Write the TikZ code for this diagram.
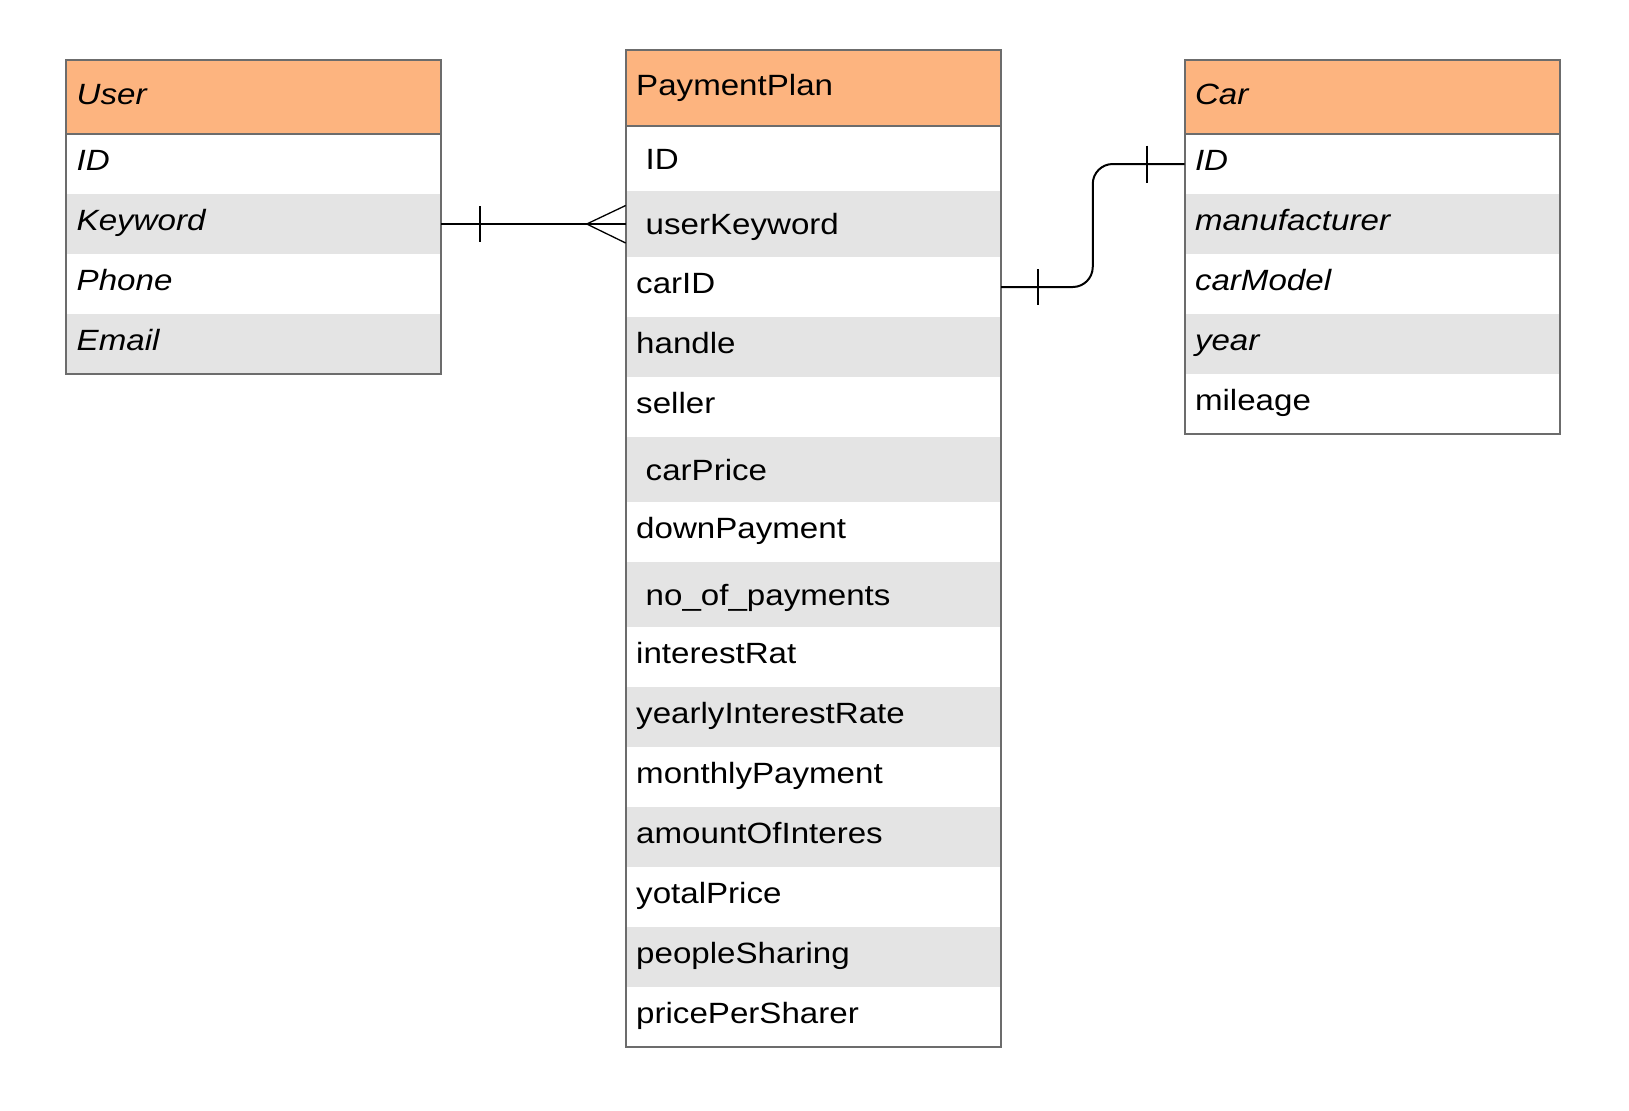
\documentclass[tikz,border=0pt]{standalone}
\usepackage{fontspec}
\setmainfont{Liberation Sans}[FakeStretch=1.13]
\usetikzlibrary{calc}
\definecolor{hdr}{RGB}{253,180,127}
\definecolor{gry}{RGB}{228,228,228}
\definecolor{bord}{RGB}{108,108,108}
\tikzset{
  cell/.style={draw=none, inner sep=0pt, outer sep=0pt, anchor=north west, minimum width=187.65pt},
  lbl/.style={inner sep=0pt, outer sep=0pt, anchor=base west, font=\fontsize{14.65}{17}\selectfont, text=black},
  ilbl/.style={lbl, font=\fontsize{14.65}{17}\selectfont\itshape},
  frame/.style={draw=bord, line width=1pt},
  rel/.style={draw=black, line width=1pt},
  relthin/.style={draw=black, line width=0.65pt},
}
\begin{document}
\begin{tikzpicture}[x=0.5pt, y=-0.5pt]
\useasboundingbox (0,0) rectangle (1629,1110);
\fill[white] (0,0) rectangle (1629,1110);

% ---------- User ----------
\node[cell, fill=hdr, minimum height=37.25pt] (uh) at (65.7,59.5) {};
\node[ilbl] (uh-t) at ($(uh.north west)+(11,45)$) {User};
\foreach \nm/\top/\fl/\tx in {uid/134/white/ID, ukw/194/gry/Keyword, uph/254/white/Phone, uem/314/gry/Email}{
  \node[cell, fill=\fl, minimum height=30pt] (\nm) at (65.7,\top) {};
  \node[ilbl] (\nm-t) at ($(\nm.north west)+(11,36.6)$) {\tx};
}
\draw[frame] (uh.north west) rectangle (uem.south east);
\draw[frame] (uh.south west) -- (uh.south east);

% ---------- Car ----------
\node[cell, fill=hdr, minimum height=37.25pt] (ch) at (1184.5,59.5) {};
\node[ilbl] (ch-t) at ($(ch.north west)+(10.5,45)$) {Car};
\foreach \nm/\top/\fl/\tx/\st in {cid/134/white/ID/ilbl, cmf/194/gry/manufacturer/ilbl, cmd/254/white/carModel/ilbl, cyr/314/gry/year/ilbl, cml/374/white/mileage/lbl}{
  \node[cell, fill=\fl, minimum height=30pt] (\nm) at (1184.5,\top) {};
  \node[\st] (\nm-t) at ($(\nm.north west)+(10.5,36.6)$) {\tx};
}
\draw[frame] (ch.north west) rectangle (cml.south east);
\draw[frame] (ch.south west) -- (ch.south east);

% ---------- PaymentPlan ----------
\node[cell, fill=hdr, minimum height=38pt] (ph) at (625.7,50) {};
\node[lbl] (ph-t) at ($(ph.north west)+(10.5,45.7)$) {PaymentPlan};
\foreach \nm/\top/\h/\fl/\tx/\dx/\bl in {
  pid/126/65/white/ID/20/43,
  puk/191/66/gry/userKeyword/20/43,
  pcar/257/60/white/carID/10.5/36.6,
  phd/317/60/gry/handle/10.5/36.6,
  psl/377/60/white/seller/10.5/36.6,
  pcp/437/65/gry/carPrice/20/43,
  pdp/502/60/white/downPayment/10.5/36.6,
  pnp/562/65/gry/no\_of\_payments/20/43,
  pir/627/60/white/interestRat/10.5/36.6,
  pyr/687/60/gry/yearlyInterestRate/10.5/36.6,
  pmp/747/60/white/monthlyPayment/10.5/36.6,
  pai/807/60/gry/amountOfInteres/10.5/36.6,
  pyt/867/60/white/yotalPrice/10.5/36.6,
  pps/927/60/gry/peopleSharing/10.5/36.6,
  ppp/987/60/white/pricePerSharer/10.5/36.6}{
  \node[cell, fill=\fl, minimum height=\h*0.5pt] (\nm) at (625.7,\top) {};
  \node[lbl] (\nm-t) at ($(\nm.north west)+(\dx,\bl)$) {\tx};
}
\draw[frame] (ph.north west) rectangle (ppp.south east);
\draw[frame] (ph.south west) -- (ph.south east);

% ---------- User -- PaymentPlan (one to many) ----------
\coordinate (ukw-e) at (ukw.east);
\coordinate (puk-w) at (ukw.east -| puk.west);
\coordinate (crow) at ($(puk-w)+(-39,0)$);
\draw[relthin] (ukw-e) -- (puk-w);
\draw[rel] ($(puk-w)+(-93,0)$) -- (puk-w);
\draw[relthin] ($(ukw-e)+(39,-18)$) -- ($(ukw-e)+(39,18)$);
\draw[relthin] ($(puk-w)+(0,-18.5)$) -- (crow) -- ($(puk-w)+(0,19)$);

% ---------- PaymentPlan -- Car (one to one) ----------
\draw[rel, rounded corners=10pt] (pcar.east) -| ($(pcar.east)!.5!(cid.west)$) |- (cid.west);
\draw[relthin] ($(pcar.east)+(37,-18)$) -- ($(pcar.east)+(37,18)$);
\draw[relthin] ($(cid.west)+(-37.5,-18.5)$) -- ($(cid.west)+(-37.5,18.5)$);
\end{tikzpicture}
\end{document}
